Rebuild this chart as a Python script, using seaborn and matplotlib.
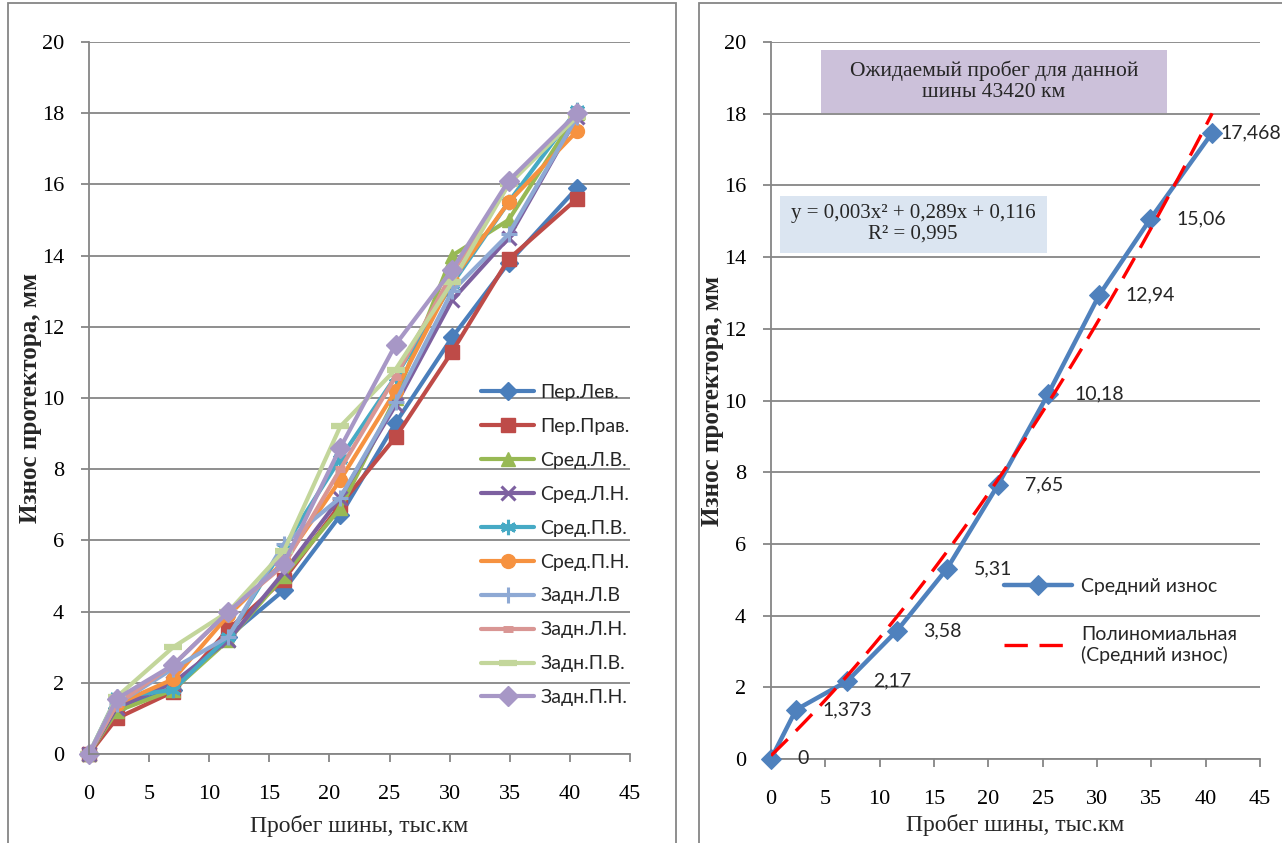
import numpy as np
import pandas as pd
import matplotlib
matplotlib.use("Agg")
import matplotlib.pyplot as plt
import matplotlib.patches as mpatches
import seaborn as sns

# ---------------- data ----------------
mileage = [0, 2.3, 7.0, 11.6, 16.2, 20.9, 25.5, 30.2, 34.9, 40.6]

series_names = ["Пер.Лев.", "Пер.Прав.", "Сред.Л.В.", "Сред.Л.Н.", "Сред.П.В.",
                "Сред.П.Н.", "Задн.Л.В", "Задн.Л.Н.", "Задн.П.В.", "Задн.П.Н."]

per_lev   = [0, 1.3, 1.8, 3.3, 4.6, 6.7, 9.3, 11.7, 13.8, 15.9]
per_prav  = [0, 1.0, 1.75, 3.5, 4.9, 7.0, 8.9, 11.3, 13.9, 15.6]
sred_lv   = [0, 1.2, 1.8, 3.2, 5.0, 6.9, 10.0, 14.0, 15.0, 18.0]
sred_ln   = [0, 1.3, 2.0, 3.2, 5.1, 7.2, 9.8, 12.75, 14.5, 17.9]
sred_pv   = [0, 1.6, 1.8, 3.3, 5.8, 8.3, 10.6, 13.2, 15.5, 18.1]
sred_pn   = [0, 1.4, 2.1, 3.9, 5.4, 7.7, 10.2, 13.3, 15.5, 17.5]
zadn_lv   = [0, 1.4, 2.4, 3.3, 5.9, 7.2, 9.9, 13.0, 14.6, 17.9]
zadn_ln   = [0, 1.4, 2.5, 4.0, 5.3, 8.0, 10.6, 13.5, 16.0, 18.0]
zadn_pv   = [0, 1.6, 3.0, 4.0, 5.7, 9.2, 10.8, 13.25, 16.0, 17.9]
zadn_pn   = [0, 1.55, 2.5, 4.0, 5.35, 8.6, 11.5, 13.6, 16.1, 18.0]

mean_wear = [0, 1.373, 2.17, 3.58, 5.31, 7.65, 10.18, 12.94, 15.06, 17.468]

all_series = [per_lev, per_prav, sred_lv, sred_ln, sred_pv,
              sred_pn, zadn_lv, zadn_ln, zadn_pv, zadn_pn]

x_ticks = list(range(0, 50, 5))
y_ticks = list(range(0, 22, 2))

box_text = "Ожидаемый пробег для данной\nшины 43420 км"
eq_text = "y = 0,003x² + 0,289x + 0,116\nR² = 0,995"
x_title = "Пробег шины, тыс.км"
y_title = "Износ протектора, мм"
mean_label = "Средний износ"
trend_label = "Полиномиальная\n(Средний износ)"

# ---------------- styles ----------------
colors = ["#4A7EBB", "#BE4B48", "#98B954", "#7D60A0", "#46AAC5",
          "#F69240", "#8EA9D4", "#D99694", "#C3D69B", "#A797C6"]
markers = ["D", "s", "^", "x", (6, 2, 0), "o", "+", "_", "_", "D"]
msizes = [9, 10, 10, 10, 11, 10, 12, 7, 13, 10]
mews = [1, 1, 1, 2.2, 2.2, 1, 2.2, 5, 4.5, 1]
label_offsets = [(19, 0), (19, 0), (19, 0), (19, 0), (19, 0),
                 (19, 0), (19, 0), (19, 0), (19, 0), (6, 0)]

sns.set_theme(style="white")
plt.rcParams["font.family"] = ["Liberation Serif", "DejaVu Serif"]
SANS = ["Lato", "DejaVu Sans"]
GRID = "#868686"

W, H = 1282, 843
fig = plt.figure(figsize=(W / 100, H / 100), dpi=100)
fig.patch.set_facecolor("white")


def fx(px):
    return px / W


def fy(py):
    return 1 - py / H


# chart borders
for (x0, x1) in [(8, 676), (699, 1300)]:
    fig.add_artist(mpatches.Rectangle((fx(x0), fy(860)), fx(x1) - fx(x0), fy(3) - fy(860),
                                      transform=fig.transFigure, fill=False,
                                      edgecolor=GRID, lw=1.3, zorder=0))

ax1 = fig.add_axes([fx(89), fy(754), fx(630) - fx(89), fy(42) - fy(754)])
ax2 = fig.add_axes([fx(771), fy(759), fx(1260) - fx(771), fy(42) - fy(759)])


def style_axes(ax, xpad):
    ax.set_xlim(0, 45)
    ax.set_ylim(0, 20)
    ax.set_xticks(x_ticks)
    ax.set_yticks(y_ticks)
    ax.set_facecolor("none")
    for s in ["top", "right"]:
        ax.spines[s].set_visible(False)
    for s in ["left", "bottom"]:
        ax.spines[s].set_color(GRID)
        ax.spines[s].set_linewidth(1.3)
    ax.yaxis.grid(True, color=GRID, lw=1.3)
    ax.xaxis.grid(False)
    ax.set_axisbelow(True)
    ax.tick_params(axis="both", which="major", direction="out", length=6, width=1.3,
                   color=GRID, labelsize=16, labelcolor="black")
    ax.tick_params(axis="x", pad=16, bottom=True)
    ax.tick_params(axis="y", pad=12, left=True)
    ax.set_xlabel(x_title, fontsize=17, labelpad=xpad)
    ax.set_ylabel(y_title, fontsize=18, fontweight="bold", labelpad=0)


# ---------------- left chart ----------------
for name, vals, c, m, ms, mew in zip(series_names, all_series, colors, markers, msizes, mews):
    df = pd.DataFrame({"x": mileage, "y": vals})
    sns.lineplot(data=df, x="x", y="y", ax=ax1, color=c, lw=3, marker=m, markersize=ms,
                 markeredgewidth=mew, markeredgecolor=c, markerfacecolor=c,
                 label=name, sort=False, errorbar=None, clip_on=False)

style_axes(ax1, 8)
leg1 = ax1.legend(loc="upper left", bbox_to_anchor=(fx(481), fy(384)),
                  bbox_transform=fig.transFigure, frameon=False, borderpad=0,
                  borderaxespad=0, handlelength=2.75, handletextpad=0.3,
                  labelspacing=0.87, prop={"family": SANS, "size": 14})

# ---------------- right chart ----------------
dfm = pd.DataFrame({"x": mileage, "y": mean_wear})
sns.lineplot(data=dfm, x="x", y="y", ax=ax2, color="#4F81BD", lw=3.2, marker="D",
             markersize=10, markeredgecolor="#4F81BD", label=mean_label,
             sort=False, errorbar=None, clip_on=False, zorder=3)
sns.regplot(data=dfm, x="x", y="y", order=2, ci=None, scatter=False, ax=ax2,
            truncate=True, label=trend_label,
            line_kws=dict(color="#FF0000", lw=2.4, dashes=(7, 3.5), zorder=4))

for xv, yv, off in zip(mileage, mean_wear, label_offsets):
    ax2.annotate(f"{yv:g}".replace(".", ","), (xv, yv), xytext=off,
                 textcoords="offset points", va="center", ha="left",
                 fontsize=14, family=SANS, annotation_clip=False)

style_axes(ax2, 4)
leg2 = ax2.legend(loc="upper left", bbox_to_anchor=(fx(1004), fy(578)),
                  bbox_transform=fig.transFigure, frameon=False, borderpad=0,
                  borderaxespad=0, handlelength=3.5, handletextpad=0.45,
                  labelspacing=1.6, prop={"family": SANS, "size": 14})

# text boxes
fig.add_artist(mpatches.Rectangle((fx(821), fy(113)), fx(1167) - fx(821), fy(50) - fy(113),
                                  transform=fig.transFigure, facecolor="#CCC1DA",
                                  edgecolor="none", zorder=5))
fig.text(fx(994), fy(81), box_text, ha="center", va="center", fontsize=15.5,
         linespacing=1.15, zorder=6)
fig.add_artist(mpatches.Rectangle((fx(780), fy(253)), fx(1047) - fx(780), fy(196) - fy(253),
                                  transform=fig.transFigure, facecolor="#DBE5F1",
                                  edgecolor="none", zorder=5))
fig.text(fx(913), fy(224), eq_text, ha="center", va="center", fontsize=15,
         linespacing=1.1, zorder=6)

fig.savefig("out.png", dpi=100, facecolor="white")
